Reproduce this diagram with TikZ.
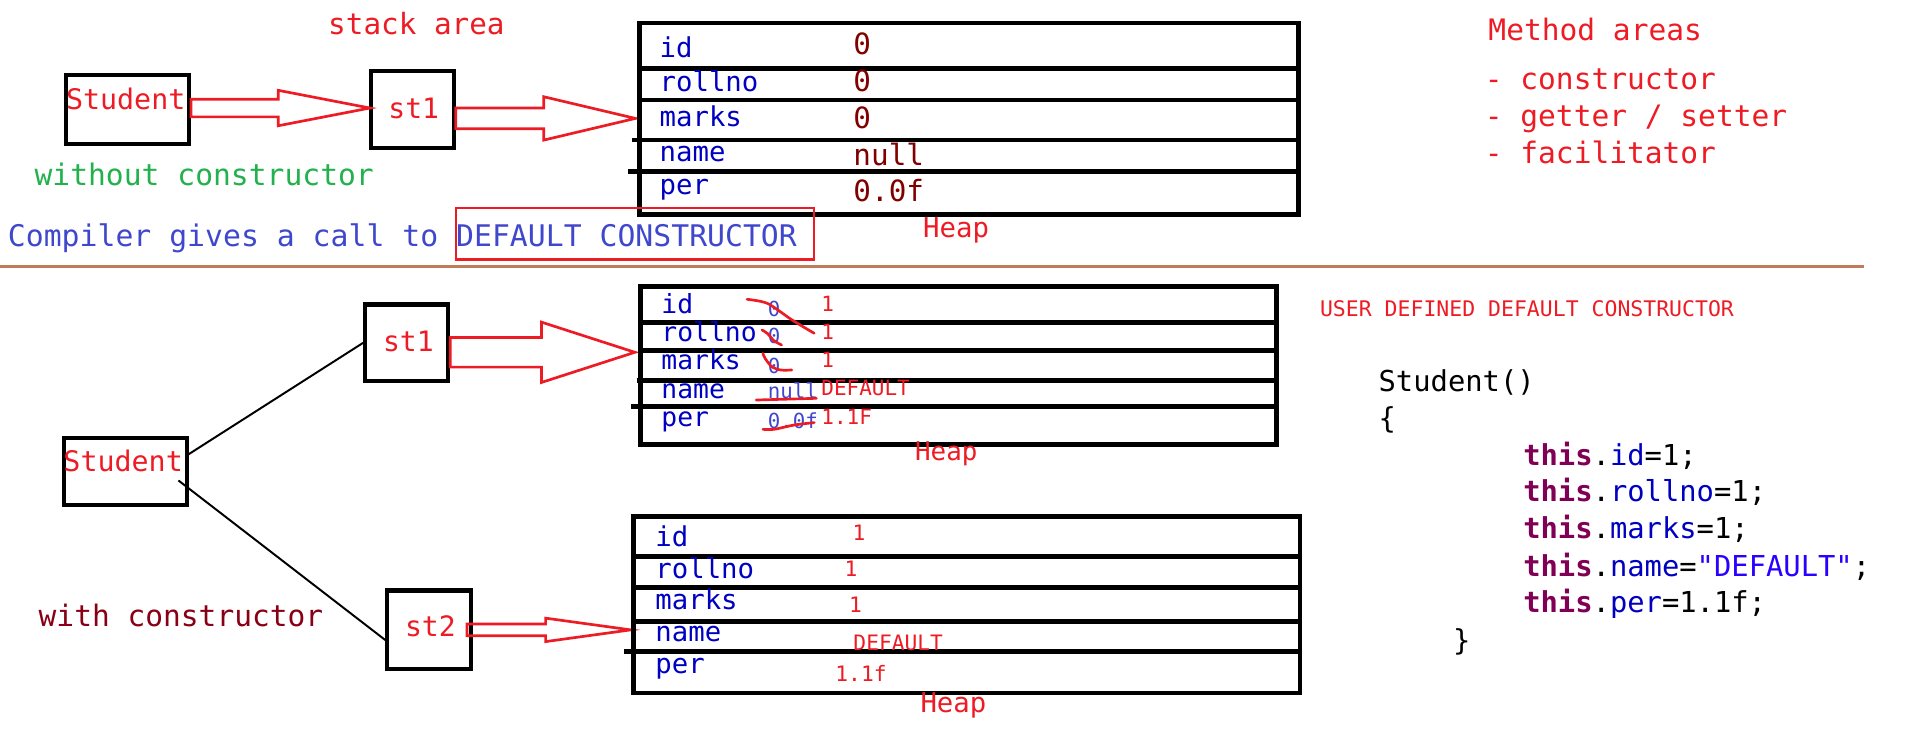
\documentclass[tikz,border=0pt]{standalone}
\usepackage{fontspec}
\setmonofont{DejaVu Sans Mono}
\usetikzlibrary{calc}
\definecolor{pred}{RGB}{237,28,36}
\definecolor{fblue}{RGB}{0,0,192}
\definecolor{maroonv}{RGB}{128,0,0}
\definecolor{pgreen}{RGB}{34,177,76}
\definecolor{cblue}{RGB}{63,72,204}
\definecolor{wred}{RGB}{136,0,21}
\definecolor{sepc}{RGB}{192,124,88}
\definecolor{kw}{RGB}{127,0,85}
\definecolor{strblue}{RGB}{42,0,255}
\newcommand\hollowarrow[5]{%
  \coordinate (hatail) at (#1 |- #2);
  \draw[harrow] ($(hatail)+(0,-#4)$) -- ($(#2)+(-#3,-#4)$) -- ($(#2)+(-#3,-#5)$) -- (#2)
    -- ($(#2)+(-#3,#5)$) -- ($(#2)+(-#3,#4)$) -- ($(hatail)+(0,#4)$) -- cycle;}
\begin{document}
\begin{tikzpicture}[x=0.5pt,y=-0.5pt,
  t/.style={anchor=base west, inner sep=0pt, font=\ttfamily\fontsize{#1}{#1}\selectfont},
  box/.style={draw, line width=1.7pt, anchor=north west, inner sep=0pt},
  heap/.style={draw, line width=1.9pt, anchor=north west, inner sep=0pt},
  hsep/.style={line width=1.9pt},
  harrow/.style={draw=pred, line width=1.1pt, line join=miter},
  link/.style={line width=0.8pt},
  strike/.style={draw=pred, line width=1.1pt, line cap=round}]
\useasboundingbox (0,0) rectangle (1568,601);

% ---------------- top part ----------------
\node[t=12, text=pred] (stacklbl) at (268.5,28.1) {stack area};
\node[box, minimum width=50.15pt, minimum height=28pt] (S1box) at (52.7,60) {};
\node[t=11.6, text=pred] (S1txt) at (53.7,90.1) {Student};
\node[box, minimum width=34pt, minimum height=31.55pt] (st1box) at (301.9,56.5) {};
\node[t=11.5, text=pred] (st1txt) at (317.8,96.9) {st1};
\coordinate (a1tip) at (303,88.5);
\hollowarrow{S1box.east}{a1tip}{75}{7.25}{14.5}
\coordinate (a2tip) at (520.5,97);
\hollowarrow{st1box.east}{a2tip}{75}{8.5}{17.75}

\node[heap, minimum width=270.1pt, minimum height=78.55pt] (heap1) at (521.8,16.9) {};
\draw[hsep] (521.8,56) -- (1064,56);
\draw[hsep] (521.8,81.9) -- (1062,81.9);
\draw[hsep] (517.5,114.7) -- (1064,114.7);
\draw[hsep] (514.5,140.6) -- (1064,140.6);
\node[t=11.2, text=fblue] (h1f1) at (540,47) {id};
\node[t=11.2, text=fblue] (h1f2) at (540,75.1) {rollno};
\node[t=11.2, text=fblue] (h1f3) at (540,103.8) {marks};
\node[t=11.2, text=fblue] (h1f4) at (540,131.9) {name};
\node[t=11.2, text=fblue] (h1f5) at (540,159.7) {per};
\node[t=12, text=maroonv] (h1v1) at (698.8,45) {0};
\node[t=12, text=maroonv] (h1v2) at (698.8,75.1) {0};
\node[t=12, text=maroonv] (h1v3) at (698.8,105.1) {0};
\node[t=12, text=maroonv] (h1v4) at (698.8,135.2) {null};
\node[t=12, text=maroonv] (h1v5) at (698.8,165.2) {0.0f};
\node[t=11.2, text=pred] (heap1lbl) at (755.9,194.4) {Heap};

\node[t=12.15, text=pgreen] (without) at (27.9,151.6) {without constructor};
\node[t=12.2, text=cblue] (compiler) at (6.1,202.1) {Compiler gives a call to DEFAULT CONSTRUCTOR};
\node[draw=pred, line width=0.9pt, anchor=north west, inner sep=0pt,
      minimum width=146.55pt, minimum height=21.05pt] (defbox) at (372.9,169.5) {};

\node[t=12.1, text=pred] (method) at (1219,33.3) {Method areas};
\node[t=12.1, text=pred] (m1) at (1216,73.7) {- constructor};
\node[t=12.1, text=pred] (m2) at (1216,103.8) {- getter / setter};
\node[t=12.1, text=pred] (m3) at (1216,133.8) {- facilitator};

\draw[draw=sepc, line width=1.1pt] (0,218.2) -- (1527,218.2);

% ---------------- bottom part ----------------
\node[box, minimum width=34pt, minimum height=31.5pt] (st1bbox) at (297.4,247.7) {};
\node[t=11.5, text=pred] (st1btxt) at (313.4,288.1) {st1};
\node[box, minimum width=50.15pt, minimum height=27.7pt] (S2box) at (51,356.9) {};
\node[t=11.6, text=pred] (S2txt) at (51.6,386.4) {Student};
\node[box, minimum width=34.35pt, minimum height=32.1pt] (st2box) at (315.4,482) {};
\node[t=11.5, text=pred] (st2txt) at (331.4,521.6) {st2};

\draw[link] ([shift={(-1.7,-13.2)}]S2box.east) -- (st1bbox.west);
\draw[link] ([shift={(-8.5,7.3)}]S2box.east) -- ([shift={(2.4,10.2)}]st2box.west);

\coordinate (a3tip) at (520.1,288.6);
\hollowarrow{st1bbox.east}{a3tip}{76.5}{12.15}{24.7}
\coordinate (st2tail) at ([xshift=-2.5pt]st2box.east);
\coordinate (a4tip) at (516.7,516);
\hollowarrow{st2tail}{a4tip}{69.7}{4.8}{9.6}

% heap 2
\node[heap, minimum width=260.3pt, minimum height=64.85pt] (heap2) at (523,232.7) {};
\draw[hsep] (523,264) -- (1043.6,264);
\draw[hsep] (523,287.3) -- (1043.6,287.3);
\draw[hsep] (521.5,311.9) -- (1043.6,311.9);
\draw[hsep] (517,333.2) -- (1043.6,333.2);
\node[t=10.8, text=fblue] (h2f1) at (541.5,256.7) {id};
\node[t=10.8, text=fblue] (h2f2) at (541.5,279.9) {rollno};
\node[t=10.8, text=fblue] (h2f3) at (541.5,303) {marks};
\node[t=10.8, text=fblue] (h2f4) at (541.5,326.3) {name};
\node[t=10.8, text=fblue] (h2f5) at (541.5,349.5) {per};
\node[t=8.5, text=cblue] (h2o1) at (628.6,259.4) {0};
\node[t=8.5, text=cblue] (h2o2) at (628.6,281.8) {0};
\node[t=8.5, text=cblue] (h2o3) at (628.6,305.8) {0};
\node[t=8.5, text=cblue] (h2o4) at (628.6,326.3) {null};
\node[t=8.5, text=cblue] (h2o5) at (628.6,350.9) {0.0f};
\node[t=8.6, text=pred] (h2n1) at (672.5,255.3) {1};
\node[t=8.6, text=pred] (h2n2) at (672.5,278.5) {1};
\node[t=8.6, text=pred] (h2n3) at (672.5,301) {1};
\node[t=8.6, text=pred] (h2n4) at (672.5,323.6) {DEFAULT};
\node[t=8.6, text=pred] (h2n5) at (672.5,347.4) {1.1F};
\draw[strike] plot[smooth] coordinates {(612,245.2) (628.6,248.5) (646.9,260.8) (657.8,267.6) (667,273)};
\draw[strike] plot[smooth] coordinates {(624.2,270.3) (628.6,273.1) (634.1,279.1) (640.3,282.6)};
\draw[strike] plot[smooth] coordinates {(625,289.5) (626.8,293.6) (632.3,300.4) (639.6,303.1) (648.7,303.1)};
\draw[strike] (619.5,327.7) -- (668.8,326.3);
\draw[strike] plot[smooth] coordinates {(625,351.7) (634.1,351.7) (650.5,348.2) (667,346.2)};
\node[t=10.6, text=pred] (heap2lbl) at (749.3,377.4) {Heap};

% heap 3
\node[heap, minimum width=273pt, minimum height=72.4pt] (heap3) at (517,421) {};
\draw[hsep] (517,456) -- (1065,456);
\draw[hsep] (517,481.2) -- (1063,481.2);
\draw[hsep] (517,509.3) -- (1065,509.3);
\draw[hsep] (511,533.9) -- (1063,533.9);
\node[t=11.2, text=fblue] (h3f1) at (536.5,447.8) {id};
\node[t=11.2, text=fblue] (h3f2) at (536.5,473.8) {rollno};
\node[t=11.2, text=fblue] (h3f3) at (536.5,499.7) {marks};
\node[t=11.2, text=fblue] (h3f4) at (536.5,525.7) {name};
\node[t=11.2, text=fblue] (h3f5) at (536.5,551.6) {per};
\node[t=8.7, text=pred] (h3v1) at (698,443) {1};
\node[t=8.7, text=pred] (h3v2) at (691.6,471.9) {1};
\node[t=8.7, text=pred] (h3v3) at (695.2,501.9) {1};
\node[t=8.7, text=pred] (h3v4) at (698.8,533) {DEFAULT};
\node[t=8.7, text=pred] (h3v5) at (684,558.4) {1.1f};
\node[t=11.2, text=pred] (heap3lbl) at (753.7,583.8) {Heap};

\node[t=12.1, text=wred] (withc) at (31.3,513.4) {with constructor};

% code
\node[t=8.8, text=pred] (userdef) at (1081,259) {USER DEFINED DEFAULT CONSTRUCTOR};
\node[t=11.8] (c1) at (1129,320.9) {Student()};
\node[t=11.8] (c2) at (1129,350.8) {\{};
\node[t=11.8] (c3) at (1247.5,381) {{\bfseries\color{kw}this}.{\color{fblue}id}=1;};
\node[t=11.8] (c4) at (1247.5,411) {{\bfseries\color{kw}this}.{\color{fblue}rollno}=1;};
\node[t=11.8] (c5) at (1247.5,441) {{\bfseries\color{kw}this}.{\color{fblue}marks}=1;};
\node[t=11.8] (c6) at (1247.5,472) {{\bfseries\color{kw}this}.{\color{fblue}name}={\color{strblue}"DEFAULT"};};
\node[t=11.8] (c7) at (1247.5,502) {{\bfseries\color{kw}this}.{\color{fblue}per}=1.1f;};
\node[t=11.8] (c8) at (1190,532.5) {\}};
\end{tikzpicture}
\end{document}
